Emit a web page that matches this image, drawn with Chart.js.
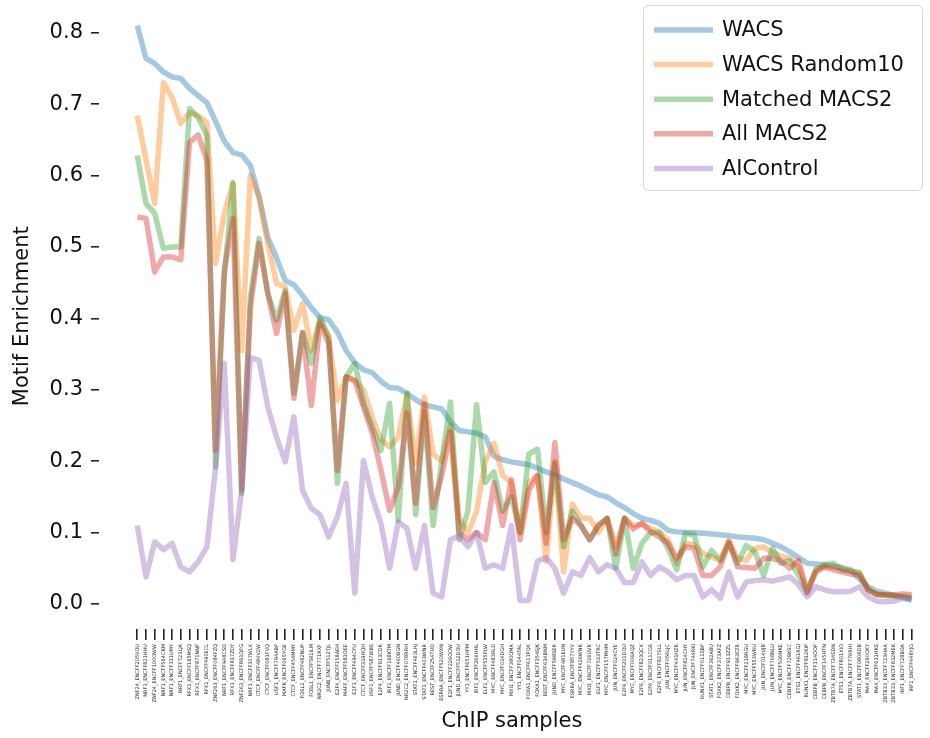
<!DOCTYPE html>
<html>
<head>
<meta charset="utf-8">
<script src="https://cdn.jsdelivr.net/npm/chart.js@4.4.1/dist/chart.umd.min.js"></script>
<style>
  html, body { margin: 0; padding: 0; background: #ffffff; }
  canvas { display: block; }
</style>
</head>
<body>
<canvas id="chart" width="930" height="738"></canvas>
<script>
// ChIP-seq samples, ordered by WACS motif enrichment
const samples = [
  'ZNF24_ENCFF205VOU', 'NRF1_ENCFF821HHU', 'ZNF24_ENCFF100OWW', 'NRF1_ENCFF564CKM', 'NRF1_ENCFF331UMY',
  'NRF1_ENCFF723LJA', 'RFX1_ENCFF185MSQ', 'RFX1_ENCFF871NNP', 'RFX1_ENCFF490ECL', 'ZNF263_ENCFF084FZQ',
  'NRF1_ENCFF948CSD', 'RFX1_ENCFF837ZDY', 'ZNF263_ENCFF891QFG', 'NRF1_ENCFF307WLX', 'CTCF_ENCFF484V2W',
  'CTCF_ENCFF081FVQ', 'USF1_ENCFF794ABP', 'MAFK_ENCFF065YGE', 'CTCF_ENCFF454MMY', 'FOSL1_ENCFF482NUP',
  'FOSL1_ENCFF581ILM', 'NR2C2_ENCFF771RXF', 'JUNB_ENCFF512TJL', 'E2F4_ENCFF158AEH', 'MAFF_ENCFF583OEE',
  'E2F1_ENCFF494CYU', 'CTCF_ENCFF319HQH', 'USF1_ENCFF587WBS', 'E2F4_ENCFF813CDR', 'IRF1_ENCFF168KTM',
  'JUND_ENCFF460BGN', 'NR2C2_ENCFF078RRH', 'STAT1_ENCFF463LHJ', 'STAT1_ENCFF403WNR', 'REST_ENCFF254TUD',
  'ESRRA_ENCFF520WXN', 'E2F1_ENCFF226OOW', 'JUND_ENCFF512DOU', 'YY1_ENCFF651HPM', 'IRF1_ENCFF266HHL',
  'ELF1_ENCFF535PLW', 'MYC_ENCFF483RLD', 'MYC_ENCFF014DGH', 'MXI1_ENCFF380QMA', 'YY1_ENCFF044TAL',
  'FOXA1_ENCFF611PQX', 'FOXA1_ENCFF354SJK', 'REST_ENCFF634BNM', 'JUND_ENCFF598SER', 'MYC_ENCFF481EUN',
  'ESRRA_ENCFF857YYV', 'MYC_ENCFF426WNR', 'MXI1_ENCFF726UVR', 'ELF1_ENCFF533TRC', 'MYC_ENCFF157MHM',
  'JUN_ENCFF024CYE', 'E2F6_ENCFF201DOU', 'MYC_ENCFF006AQZ', 'E2F6_ENCFF823QCX', 'E2F6_ENCFF011CGS',
  'E2F6_ENCFF827SLL', 'JUN_ENCFF056LJC', 'MYC_ENCFF441HZR', 'JUN_ENCFF814CHY', 'JUN_ENCFF744RKI',
  'RUNX1_ENCFF011SBP', 'STAT1_ENCFF362ABU', 'FOXK2_ENCFF373AFZ', 'CEBPB_ENCFF913ZZL', 'FOXK2_ENCFF963FZR',
  'MYC_ENCFF218RGU', 'MYC_ENCFF553WRU', 'JUN_ENCFF014UJB', 'JUN_ENCFF768NLU', 'MYC_ENCFF506MKE',
  'CEBPB_ENCFF729KSC', 'ETS1_ENCFF461RGI', 'RUNX1_ENCFF812KIP', 'CEBPB_ENCFF314OOP', 'CEBPB_ENCFF145HTN',
  'ZBTB7A_ENCFF734SDN', 'ETS1_ENCFF801XIO', 'ZBTB7A_ENCFF776RHI', 'STAT1_ENCFF080RDB', 'MAX_ENCFF290OXY',
  'MAX_ENCFF631HKS', 'ZBTB33_ENCFF723HAA', 'ZBTB33_ENCFF832MEK', 'IRF1_ENCFF728BOA', 'IRF1_ENCFF448YJG'
];

const wacs = [
  0.81, 0.764, 0.757, 0.745, 0.738, 0.736, 0.722, 0.712, 0.702, 0.676,
  0.648, 0.632, 0.629, 0.614, 0.57, 0.513, 0.485, 0.453, 0.447, 0.432,
  0.415, 0.401, 0.398, 0.381, 0.355, 0.338, 0.328, 0.324, 0.312, 0.303,
  0.302, 0.295, 0.286, 0.279, 0.276, 0.273, 0.255, 0.243, 0.241, 0.239,
  0.234, 0.207, 0.202, 0.199, 0.197, 0.195, 0.19, 0.185, 0.181, 0.175,
  0.17, 0.165, 0.159, 0.153, 0.15, 0.142, 0.135, 0.127, 0.12, 0.117,
  0.113, 0.103, 0.101, 0.1, 0.1, 0.099, 0.098, 0.097, 0.096, 0.094,
  0.093, 0.092, 0.09, 0.085, 0.08, 0.073, 0.065, 0.057, 0.056, 0.055,
  0.053, 0.051, 0.048, 0.035, 0.024, 0.018, 0.015, 0.012, 0.009, 0.006
];

const wacsRandom10 = [
  0.684, 0.622, 0.561, 0.73, 0.709, 0.673, 0.688, 0.684, 0.674, 0.477,
  0.547, 0.589, 0.355, 0.6, 0.57, 0.505, 0.449, 0.444, 0.383, 0.421,
  0.355, 0.397, 0.374, 0.285, 0.318, 0.313, 0.3, 0.262, 0.23, 0.22,
  0.234, 0.293, 0.197, 0.29, 0.21, 0.2, 0.25, 0.12, 0.1, 0.13,
  0.2, 0.225, 0.18, 0.17, 0.1, 0.17, 0.18, 0.06, 0.2, 0.045,
  0.14, 0.12, 0.12, 0.1, 0.12, 0.08, 0.12, 0.11, 0.112, 0.106,
  0.101, 0.09, 0.057, 0.085, 0.083, 0.071, 0.066, 0.061, 0.089, 0.064,
  0.061, 0.078, 0.08, 0.072, 0.067, 0.064, 0.052, 0.02, 0.048, 0.052,
  0.051, 0.05, 0.046, 0.043, 0.02, 0.013, 0.013, 0.012, 0.011, 0.01
];

const matchedMacs2 = [
  0.628, 0.561, 0.547, 0.498, 0.5, 0.5, 0.694, 0.681, 0.656, 0.192,
  0.46, 0.59, 0.155, 0.43, 0.512, 0.435, 0.397, 0.439, 0.295, 0.38,
  0.337, 0.401, 0.374, 0.169, 0.318, 0.337, 0.281, 0.248, 0.215, 0.281,
  0.117, 0.295, 0.125, 0.27, 0.11, 0.2, 0.283, 0.09, 0.13, 0.279,
  0.17, 0.185, 0.13, 0.15, 0.1, 0.21, 0.217, 0.1, 0.197, 0.08,
  0.13, 0.11, 0.09, 0.11, 0.12, 0.05, 0.12, 0.05, 0.085, 0.1,
  0.1, 0.078, 0.048, 0.099, 0.097, 0.052, 0.075, 0.061, 0.085, 0.057,
  0.082, 0.073, 0.04, 0.078, 0.057, 0.061, 0.04, 0.017, 0.048, 0.055,
  0.057, 0.048, 0.046, 0.044, 0.02, 0.014, 0.012, 0.011, 0.01, 0.008
];

const allMacs2 = [
  0.542, 0.54, 0.465, 0.486, 0.486, 0.482, 0.646, 0.657, 0.621, 0.215,
  0.467, 0.54, 0.16, 0.415, 0.505, 0.435, 0.379, 0.435, 0.288, 0.38,
  0.278, 0.393, 0.365, 0.187, 0.318, 0.313, 0.276, 0.24, 0.188, 0.131,
  0.164, 0.267, 0.141, 0.28, 0.135, 0.18, 0.241, 0.1, 0.09, 0.1,
  0.09, 0.17, 0.11, 0.174, 0.09, 0.159, 0.18, 0.085, 0.226, 0.09,
  0.12, 0.11, 0.09, 0.11, 0.12, 0.07, 0.12, 0.105, 0.113, 0.101,
  0.094, 0.085, 0.064, 0.08, 0.078, 0.04, 0.04, 0.052, 0.087, 0.052,
  0.051, 0.05, 0.064, 0.064, 0.06, 0.05, 0.061, 0.015, 0.045, 0.052,
  0.048, 0.045, 0.042, 0.04, 0.02, 0.013, 0.013, 0.013, 0.014, 0.013
];

const aiControl = [
  0.11, 0.038, 0.087, 0.076, 0.085, 0.052, 0.045, 0.059, 0.08, 0.192,
  0.337, 0.062, 0.16, 0.345, 0.341, 0.276, 0.234, 0.199, 0.262, 0.159,
  0.134, 0.125, 0.094, 0.122, 0.169, 0.015, 0.201, 0.15, 0.113, 0.05,
  0.115, 0.106, 0.05, 0.11, 0.015, 0.01, 0.09, 0.095, 0.08, 0.1,
  0.05, 0.055, 0.05, 0.11, 0.005, 0.005, 0.06, 0.065, 0.05, 0.015,
  0.045, 0.04, 0.065, 0.045, 0.055, 0.05, 0.03, 0.03, 0.059, 0.04,
  0.052, 0.045, 0.034, 0.04, 0.04, 0.01, 0.02, 0.008, 0.045, 0.01,
  0.031, 0.033, 0.034, 0.032, 0.035, 0.038, 0.027, 0.01, 0.024, 0.02,
  0.017, 0.017, 0.018, 0.024, 0.01, 0.004, 0.003, 0.004, 0.008, 0.006
];

const seriesNames = ['WACS', 'WACS Random10', 'Matched MACS2', 'All MACS2', 'AIControl'];
const seriesValues = [wacs, wacsRandom10, matchedMacs2, allMacs2, aiControl];
const seriesColors = ['rgba(31,119,180,0.4)', 'rgba(255,127,14,0.4)', 'rgba(44,160,44,0.4)',
                      'rgba(214,39,40,0.4)', 'rgba(148,103,189,0.4)'];

const yTickValues = [0.0, 0.1, 0.2, 0.3, 0.4, 0.5, 0.6, 0.7, 0.8];
const yTickLabels = ['0.0', '0.1', '0.2', '0.3', '0.4', '0.5', '0.6', '0.7', '0.8'];

const FONT = 'DejaVu Sans';
const LINE_W = 5.5;

const datasets = seriesNames.map((name, k) => ({
  label: name,
  data: seriesValues[k].map((v, i) => ({ x: i, y: v })),
  borderColor: seriesColors[k],
  backgroundColor: seriesColors[k],
  borderWidth: LINE_W,
  borderJoinStyle: 'round',
  borderCapStyle: 'butt',
  pointRadius: 0,
  pointHoverRadius: 0,
  tension: 0,
  fill: false,
  // later series are painted over earlier ones
  order: seriesNames.length - k
}));

// framed legend in the upper right corner
const boxLegend = {
  id: 'boxLegend',
  afterDraw(chart) {
    const ctx = chart.ctx;
    const x0 = 643.5, y0 = 5.5, w = 279, h = 185, r = 5;
    ctx.save();
    ctx.beginPath();
    ctx.moveTo(x0 + r, y0);
    ctx.arcTo(x0 + w, y0, x0 + w, y0 + h, r);
    ctx.arcTo(x0 + w, y0 + h, x0, y0 + h, r);
    ctx.arcTo(x0, y0 + h, x0, y0, r);
    ctx.arcTo(x0, y0, x0 + w, y0, r);
    ctx.closePath();
    ctx.fillStyle = 'rgba(255,255,255,0.8)';
    ctx.fill();
    ctx.strokeStyle = 'rgba(204,204,204,0.8)';
    ctx.lineWidth = 1;
    ctx.stroke();

    ctx.font = '21px "' + FONT + '"';
    ctx.textBaseline = 'middle';
    ctx.textAlign = 'left';
    chart.data.datasets.forEach((ds, k) => {
      const yc = 30 + k * 34.6;
      ctx.beginPath();
      ctx.moveTo(654, yc);
      ctx.lineTo(713, yc);
      ctx.strokeStyle = ds.borderColor;
      ctx.lineWidth = LINE_W;
      ctx.lineCap = 'butt';
      ctx.stroke();
      ctx.fillStyle = '#111111';
      ctx.fillText(ds.label, 722, yc + 1);
    });
    ctx.restore();
  }
};

new Chart(document.getElementById('chart'), {
  type: 'line',
  data: { datasets },
  plugins: [boxLegend],
  options: {
    responsive: false,
    devicePixelRatio: 1,
    animation: false,
    events: [],
    layout: { padding: { top: 3.4, right: 5, bottom: 0, left: 0 } },
    plugins: {
      legend: { display: false },
      tooltip: { enabled: false },
      title: { display: false }
    },
    scales: {
      x: {
        type: 'linear',
        min: -4.4,
        max: 90.54,
        afterBuildTicks: (scale) => { scale.ticks = samples.map((_, i) => ({ value: i })); },
        afterFit: (scale) => { scale.height = 109; scale.paddingLeft = 0; scale.paddingRight = 0; },
        ticks: {
          autoSkip: false,
          minRotation: 90,
          maxRotation: 90,
          padding: 4,
          color: '#222222',
          font: { family: FONT, size: 5 },
          callback: (value) => samples[Math.round(value)]
        },
        grid: {
          drawOnChartArea: false,
          drawTicks: true,
          tickLength: 11,
          tickWidth: 1.6,
          tickColor: '#222222',
          color: '#222222',
          lineWidth: 1.6
        },
        border: { display: false },
        title: {
          display: true,
          text: 'ChIP samples',
          color: '#111111',
          font: { family: FONT, size: 21 },
          padding: { top: 0, bottom: 4 }
        }
      },
      y: {
        type: 'linear',
        min: -0.035,
        max: 0.841,
        afterBuildTicks: (scale) => { scale.ticks = yTickValues.map(v => ({ value: v })); },
        afterFit: (scale) => { scale.width = 99; scale.paddingTop = 0; scale.paddingBottom = 0; },
        ticks: {
          padding: 8,
          color: '#111111',
          font: { family: FONT, size: 21 },
          callback: (value, index) => yTickLabels[index]
        },
        grid: {
          drawOnChartArea: false,
          drawTicks: true,
          tickLength: 8,
          tickWidth: 1.6,
          tickColor: '#222222',
          color: '#222222',
          lineWidth: 1.6
        },
        border: { display: false },
        title: {
          display: true,
          text: 'Motif Enrichment',
          color: '#111111',
          font: { family: FONT, size: 21 },
          padding: { top: 10, bottom: 0 }
        }
      }
    }
  }
});
</script>
</body>
</html>
